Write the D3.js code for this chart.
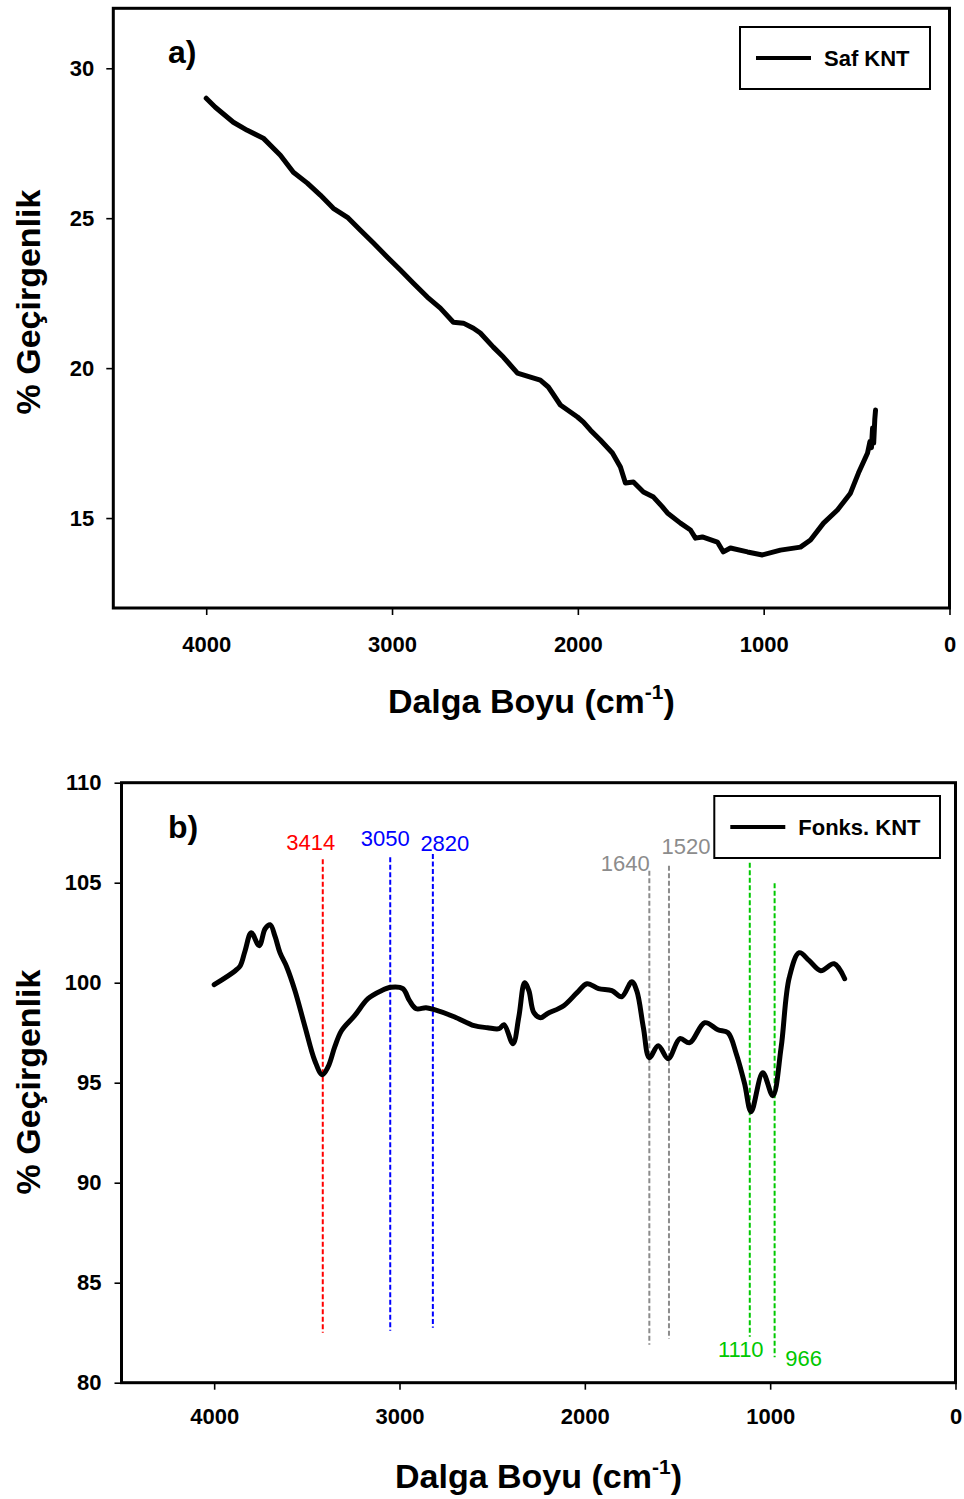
<!DOCTYPE html>
<html>
<head>
<meta charset="utf-8">
<script src="https://cdnjs.cloudflare.com/ajax/libs/d3/7.8.5/d3.min.js"></script>
<style>
  body { margin: 0; background: #fff; }
  svg { display: block; font-family: "Liberation Sans", Arial, sans-serif; }
</style>
</head>
<body>
<div id="chart"></div>
<script>
// a) Saf KNT spectrum: wavenumber (cm-1) and transmittance (%)
var wnA = [4000,3951,3854,3779,3693,3601,3531,3456,3386,3316,
           3240,3170,3100,3025,2955,2885,2810,2740,2670,2616,
           2562,2525,2455,2401,2325,2255,2202,2159,2137,2094,
           2002,1970,1932,1879,1814,1771,1744,1701,1647,1593,
           1545,1518,1448,1394,1367,1330,1249,1217,1179,1087,
           1007,910,802,748,678,603,533,490,
           441,428,420,414,408,402,398];
var tA = [29.0,28.7,28.2,27.93,27.67,27.1,26.53,26.17,25.77,25.33,
          25.03,24.6,24.17,23.7,23.27,22.83,22.37,22.0,21.53,21.5,
          21.33,21.17,20.7,20.37,19.83,19.7,19.6,19.37,19.17,18.77,
          18.37,18.2,17.93,17.6,17.17,16.7,16.17,16.2,15.87,15.7,
          15.37,15.17,14.83,14.6,14.33,14.37,14.2,13.87,14.0,13.87,
          13.77,13.93,14.03,14.27,14.83,15.27,15.83,16.5,
          17.17,17.55,17.35,18.0,17.5,18.3,18.6];

// b) Fonks. KNT spectrum
var wnB = [4000,3886,3859,3833,3800,3757,3725,3698,3671,3645,
           3609,3564,3510,3457,3417,3385,3349,3313,3242,3170,
           3098,3045,2982,2946,2910,2857,2812,2705,2597,2525,
           2463,2436,2388,2356,2325,2302,2275,2239,2203,2114,
           2042,1988,1926,1854,1801,1747,1720,1684,1652,1604,
           1550,1487,1434,1353,1282,1228,1183,1138,1103,1040,
           986,941,897,843,789,727,655,598];
var tB = [99.9,100.6,100.85,101.6,102.5,101.85,102.7,102.9,102.3,101.5,
          100.8,99.6,97.8,96.1,95.4,95.8,96.8,97.6,98.35,99.2,
          99.6,99.77,99.7,99.1,98.7,98.75,98.65,98.3,97.85,97.75,
          97.7,97.9,96.95,98.3,100.0,99.6,98.5,98.25,98.45,98.85,
          99.5,99.95,99.7,99.6,99.3,100.05,99.6,97.75,96.25,96.85,
          96.2,97.2,97.0,98.0,97.65,97.5,96.45,94.95,93.55,95.5,
          94.35,96.75,100.25,101.5,101.1,100.6,100.95,100.2];

var xTicks = [4000, 3000, 2000, 1000, 0];
var yTicksA = [15, 20, 25, 30];
var yTicksB = [80, 85, 90, 95, 100, 105, 110];

// band markers in b)
var markerLabels = ["3414", "3050", "2820", "1640", "1520", "1110", "966"];
var markerAt = [3414, 3050, 2820, 1652, 1546, 1110, 976];
var markerTop = [106.17, 106.27, 106.43, 105.6, 105.85, 106.0, 104.97];
var markerBottom = [82.5, 82.6, 82.75, 81.9, 82.2, 82.3, 81.27];

// marker styling / label placement (px)
var markerColor = ["#ff0000", "#0000ff", "#0000ff", "#8c8c8c", "#8c8c8c", "#00c800", "#00c800"];
var markerLabelOff = [[-12, -9, "top"], [-5, -11, "top"], [12, -3, "top"], [-24, 0, "top"],
                      [17, -12, "top"], [-9, 20, "bottom"], [29, 9, "bottom"]];

var W = 964, H = 1499;
var font = '"Liberation Sans", Arial, sans-serif';

var svg = d3.select("#chart").append("svg")
  .attr("width", W).attr("height", H);

function drawPanel(p) {
  var x = d3.scaleLinear().domain([4500, 0]).range([p.left, p.right]);
  var y = d3.scaleLinear().domain(p.yDomain).range([p.bottom, p.top]);
  var g = svg.append("g");

  // axes
  var xa = g.append("g")
    .attr("transform", "translate(0," + p.bottom + ")")
    .call(d3.axisBottom(x).tickValues(xTicks).tickSize(7).tickPadding(p.xPad).tickFormat(d3.format("d")));
  var ya = g.append("g")
    .attr("transform", "translate(" + p.left + ",0)")
    .call(d3.axisLeft(y).tickValues(p.yTicks).tickSize(7).tickPadding(p.yPad).tickFormat(d3.format("d")));
  [xa, ya].forEach(function(a) {
    a.select(".domain").remove();
    a.selectAll(".tick line").attr("stroke", "#000").attr("stroke-width", 1.6);
    a.selectAll(".tick text").attr("fill", "#000").attr("font-family", font)
      .attr("font-weight", "bold");
  });
  xa.selectAll(".tick text").attr("font-size", 22);
  ya.selectAll(".tick text").attr("font-size", 22);

  // markers etc. under the spectrum
  if (p.before) p.before(g, x, y);

  var line = d3.line()
    .x(function(d) { return x(d[0]); })
    .y(function(d) { return y(d[1]); })
    .curve(p.curve);
  g.append("path")
    .datum(d3.zip(p.wn, p.t))
    .attr("d", line)
    .attr("fill", "none")
    .attr("stroke", "#000")
    .attr("stroke-width", p.lineW)
    .attr("stroke-linejoin", "round")
    .attr("stroke-linecap", "round");

  // frame
  g.append("rect")
    .attr("x", p.left).attr("y", p.top)
    .attr("width", p.right - p.left).attr("height", p.bottom - p.top)
    .attr("fill", "none").attr("stroke", "#000").attr("stroke-width", 3);

  // panel letter
  g.append("text").attr("x", 168).attr("y", p.top + 55)
    .attr("font-family", font).attr("font-weight", "bold").attr("font-size", 32)
    .text(p.tag);

  // legend
  var lg = p.legend;
  g.append("rect").attr("x", lg.x).attr("y", lg.y).attr("width", lg.w).attr("height", lg.h)
    .attr("fill", "#fff").attr("stroke", "#000").attr("stroke-width", 2);
  g.append("line").attr("x1", lg.x + 16).attr("x2", lg.x + 71)
    .attr("y1", lg.y + lg.h / 2).attr("y2", lg.y + lg.h / 2)
    .attr("stroke", "#000").attr("stroke-width", 4);
  g.append("text").attr("x", lg.x + 84).attr("y", lg.y + lg.h / 2 + 8)
    .attr("font-family", font).attr("font-weight", "bold").attr("font-size", 22)
    .text(lg.label);

  // axis titles
  var xt = g.append("text")
    .attr("x", (p.left + p.right) / 2).attr("y", p.bottom + 105)
    .attr("text-anchor", "middle")
    .attr("font-family", font).attr("font-weight", "bold").attr("font-size", 34);
  xt.append("tspan").text("Dalga Boyu (cm");
  xt.append("tspan").attr("font-size", 21).attr("dy", -14).text("-1");
  xt.append("tspan").attr("dy", 14).text(")");

  g.append("text")
    .attr("transform", "translate(40," + p.yTitleY + ") rotate(-90)")
    .attr("text-anchor", "middle")
    .attr("font-family", font).attr("font-weight", "bold").attr("font-size", 34)
    .text("% Geçirgenlik");
}

drawPanel({
  left: 113.3, right: 949.5, top: 8.3, bottom: 608,
  yDomain: [12, 32], yTicks: yTicksA, yPad: 12, xPad: 21,
  wn: wnA, t: tA, curve: d3.curveLinear, lineW: 5,
  tag: "a)", yTitleY: 302,
  legend: { x: 740, y: 27, w: 190, h: 62, label: "Saf KNT" }
});

drawPanel({
  left: 121.5, right: 955.5, top: 782.7, bottom: 1382.7,
  yDomain: [80, 110], yTicks: yTicksB, yPad: 13, xPad: 19,
  wn: wnB, t: tB, curve: d3.curveCatmullRom.alpha(0.5), lineW: 5,
  tag: "b)", yTitleY: 1082,
  legend: { x: 714.3, y: 796, w: 225.7, h: 62, label: "Fonks. KNT" },
  before: function(g, x, y) {
    var m = d3.range(markerLabels.length).map(function(i) {
      return { label: markerLabels[i], at: markerAt[i], top: markerTop[i],
               bottom: markerBottom[i], color: markerColor[i], off: markerLabelOff[i] };
    });
    g.selectAll("line.marker").data(m).enter().append("line")
      .attr("class", "marker")
      .attr("x1", function(d) { return x(d.at); })
      .attr("x2", function(d) { return x(d.at); })
      .attr("y1", function(d) { return y(d.top); })
      .attr("y2", function(d) { return y(d.bottom); })
      .attr("stroke", function(d) { return d.color; })
      .attr("stroke-width", 2)
      .attr("stroke-dasharray", "5,2.5");
    g.selectAll("text.marker").data(m).enter().append("text")
      .attr("class", "marker")
      .attr("x", function(d) { return x(d.at) + d.off[0]; })
      .attr("y", function(d) { return (d.off[2] === "top" ? y(d.top) : y(d.bottom)) + d.off[1]; })
      .attr("text-anchor", "middle")
      .attr("font-family", font).attr("font-size", 22)
      .attr("fill", function(d) { return d.color; })
      .text(function(d) { return d.label; });
  }
});
</script>
</body>
</html>
